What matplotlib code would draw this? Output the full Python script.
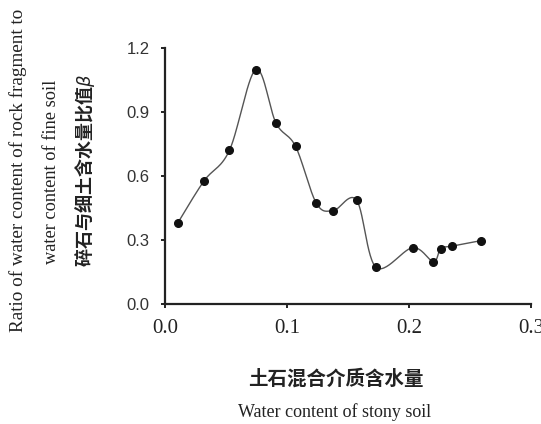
import numpy as np
import matplotlib
matplotlib.use("Agg")
import matplotlib.pyplot as plt

# Data
water_content = [0.0104, 0.032, 0.0528, 0.0744, 0.091, 0.107, 0.124, 0.138,
                 0.157, 0.173, 0.203, 0.220, 0.226, 0.235, 0.259]
beta = [0.379, 0.577, 0.720, 1.099, 0.848, 0.739, 0.473, 0.438,
        0.487, 0.172, 0.264, 0.199, 0.260, 0.271, 0.297]
x_ticks = [0.0, 0.1, 0.2, 0.3]
y_ticks = [0.0, 0.3, 0.6, 0.9, 1.2]
x_ticklabels = ["0.0", "0.1", "0.2", "0.3"]
y_ticklabels = ["0.0", "0.3", "0.6", "0.9", "1.2"]

W, H = 541, 424
fig = plt.figure(figsize=(W / 100, H / 100), dpi=100)
left, right, top, bottom = 165, 531, 48, 304
ax = fig.add_axes([left / W, 1 - bottom / H, (right - left) / W, (bottom - top) / H])
ax.set_xlim(0, 0.3)
ax.set_ylim(0, 1.2)


def smooth(xs, ys, n=30):
    # Catmull-Rom style smoothing (as in spreadsheet "smoothed line"),
    # computed in screen-proportional coordinates
    sxs = np.asarray(xs) / 0.3 * (right - left)
    sys_ = np.asarray(ys) / 1.2 * (bottom - top)
    P = np.column_stack([sxs, sys_])
    out = []
    for i in range(len(P) - 1):
        p0 = P[i - 1] if i > 0 else P[i]
        p1 = P[i]
        p2 = P[i + 1]
        p3 = P[i + 2] if i + 2 < len(P) else P[i + 1]
        c1 = p1 + (p2 - p0) / 6
        c2 = p2 - (p3 - p1) / 6
        t = np.linspace(0, 1, n)[:, None]
        seg = ((1 - t) ** 3) * p1 + 3 * ((1 - t) ** 2) * t * c1 + 3 * (1 - t) * t ** 2 * c2 + t ** 3 * p2
        out.append(seg if i == 0 else seg[1:])
    pts = np.vstack(out)
    return pts[:, 0] / (right - left) * 0.3, pts[:, 1] / (bottom - top) * 1.2


sx, sy = smooth(water_content, beta)
ax.plot(sx, sy, color="#555555", lw=1.0, zorder=2)
ax.plot(water_content, beta, "o", color="#111111", ms=5.5, zorder=3)

for s in ["top", "right"]:
    ax.spines[s].set_visible(False)
for s in ["left", "bottom"]:
    ax.spines[s].set_linewidth(1.6)
    ax.spines[s].set_color("#222222")

ax.set_xticks(x_ticks)
ax.set_xticklabels(x_ticklabels, family="Liberation Serif", fontsize=15, color="#222222")
ax.set_yticks(y_ticks)
ax.set_yticklabels(y_ticklabels, family="Liberation Sans", fontsize=12, color="#333333")
ax.tick_params(axis="both", direction="out", length=3, width=1.4, color="#222222")
ax.tick_params(axis="x", pad=8)
ax.tick_params(axis="y", pad=8)

cjk = ["Noto Sans CJK SC", "DejaVu Serif"]
fig.text(336 / W, 1 - 379 / H, "土石混合介质含水量", family=cjk, fontsize=14,
         fontweight="bold", ha="center", va="center", color="#222222")
fig.text(335 / W, 1 - 412 / H, "Water content of stony soil", family="Liberation Serif",
         fontsize=13, ha="center", va="center", color="#222222")

fig.text(18 / W, 1 - 170 / H, "Ratio of water content of rock fragment to",
         family="Liberation Serif", fontsize=13.8, rotation=90, ha="center", va="center",
         color="#222222")
fig.text(52 / W, 1 - 172 / H, "water content of fine soil",
         family="Liberation Serif", fontsize=13.2, rotation=90, ha="center", va="center",
         color="#222222")
fig.text(85 / W, 1 - 170 / H, "碎石与细土含水量比值$\\beta$",
         family=cjk, fontsize=13, fontweight="bold", rotation=90, ha="center", va="center",
         color="#222222")

fig.savefig("out.png", dpi=100, facecolor="white")
